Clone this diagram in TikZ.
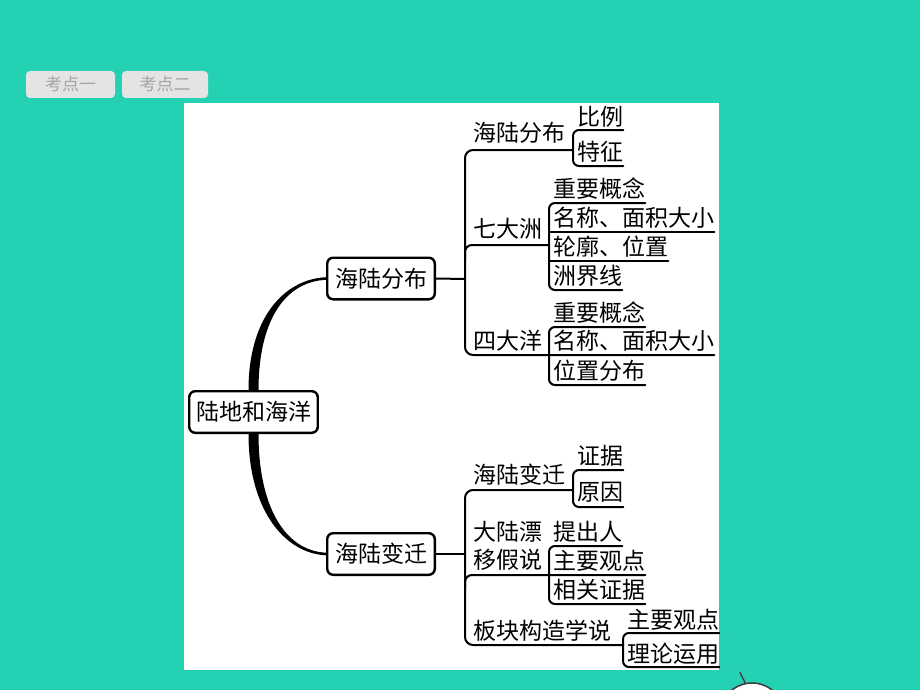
\documentclass[tikz,border=0pt]{standalone}
\usepackage{fontspec}
\newfontfamily\cjk{Noto Sans CJK SC}
\usetikzlibrary{calc}
\definecolor{bgteal}{RGB}{36,209,178}
\definecolor{tabgray}{RGB}{228,228,228}
\definecolor{tabtext}{RGB}{165,165,165}
\definecolor{deco}{RGB}{60,60,60}
\begin{document}
\begin{tikzpicture}[x=1pt,y=-1pt,
  box/.style={draw=black, line width=2.4pt, rounded corners=6pt, fill=white,
    font=\cjk\fontsize{23}{23}\selectfont, minimum width=107.6pt,
    minimum height=41.6pt, inner sep=0pt},
  lbl/.style={font=\cjk\fontsize{23}{28}\selectfont, inner sep=0pt, anchor=west, text=black},
  ln/.style={line width=2pt, line cap=round},
  tab/.style={fill=tabgray, rounded corners=4pt, minimum width=89pt,
    minimum height=27pt, inner sep=0pt, font=\cjk\fontsize{17}{17}\selectfont, text=tabtext}]
\useasboundingbox (0,0) rectangle (920,690);
\clip (0,0) rectangle (920,690);
\fill[bgteal] (0,0) rectangle (920,690);
% tabs
\node[tab] (t1) at (70.5,84.5) {考点一};
\node[tab, minimum width=86pt] (t2) at (165,84.5) {考点二};
% panel
\fill[white] (184,103) rectangle (719,670);
% decoration bottom right
\draw[deco, line width=1.5pt, fill=white] (752,715) circle (32);
\draw[deco, line width=1.3pt] (745,683) .. controls (744,679) and (741,676) .. (740,672);

% boxes
\node[box, minimum width=128.5pt] (root) at (253.5,412) {陆地和海洋};
\node[box] (b1) at (381,278.5) {海陆分布};
\node[box] (b2) at (381,554) {海陆变迁};

% tapered connectors
\fill ($(b1.west)+(0,-1.3)$) .. controls +(-42,2) and +(0,-72) .. ($(root.north)+(-5,0)$)
  -- ($(root.north)+(5,0)$) .. controls +(0,-68) and +(-42,2) .. ($(b1.west)+(0,1.3)$) -- cycle;
\fill ($(root.south)+(-5,0)$) .. controls +(0,75) and +(-42,-2) .. ($(b2.west)+(0,1.3)$)
  -- ($(b2.west)+(0,-1.3)$) .. controls +(-42,-2) and +(0,71) .. ($(root.south)+(5,0)$) -- cycle;

% ---------- upper branch labels
\node[lbl] (l1) at (473,133) {海陆分布};
\node[lbl] (a1) at (577,117) {比例};
\node[lbl] (a2) at (577,152) {特征};
\node[lbl] (l2) at (473,229) {七大洲};
\node[lbl] (bb1) at (553,189) {重要概念};
\node[lbl] (bb2) at (553,218) {名称、面积大小};
\node[lbl] (bb3) at (553,247) {轮廓、位置};
\node[lbl] (bb4) at (553,276) {洲界线};
\node[lbl] (l3) at (473,341) {四大洋};
\node[lbl] (c1) at (553,313) {重要概念};
\node[lbl] (c2) at (553,341) {名称、面积大小};
\node[lbl] (c3) at (553,371) {位置分布};

% ---------- lower branch labels
\node[lbl] (l4) at (473,475) {海陆变迁};
\node[lbl] (d1) at (577,456) {证据};
\node[lbl] (d2) at (577,492) {原因};
\node[lbl, align=left] (l5) at (473,546) {大陆漂\\移假说};
\node[lbl] (e1) at (553,532) {提出人};
\node[lbl] (e2) at (553,561) {主要观点};
\node[lbl] (e3) at (553,590) {相关证据};
\node[lbl] (l6) at (473,631) {板块构造学说};
\node[lbl] (f1) at (627,620) {主要观点};
\node[lbl] (f2) at (627,654) {理论运用};

% ---------- coordinates for the upper tree
\coordinate (v1t) at (465,150);
\coordinate (v1m) at (465,279);
\coordinate (v1b) at (465,355);
\coordinate (ja) at (573,150);
\coordinate (a1u) at (573,130);
\coordinate (a2u) at (573,166);
\coordinate (v1c) at (465,260);
\coordinate (jb) at (549,245);
\coordinate (bt) at (549,203);
\coordinate (bm2) at (549,232);
\coordinate (bm3) at (549,261);
\coordinate (bb) at (549,290);
\coordinate (ct) at (549,327);
\coordinate (cb) at (549,385);

\draw[ln, rounded corners=8pt] (ja) -- (v1t) -- (v1b) -- (c2.east |- v1b);
\draw[ln] (b1.east) -- (v1m);
\draw[ln, rounded corners=6pt] (a1.east |- a1u) -- (a1u) -- (a2u) -- (a2.east |- a2u);
\draw[ln, rounded corners=7pt] (v1c) -- (v1c |- jb) -- (jb);
\draw[ln, rounded corners=6pt] (bb1.east |- bt) -- (bt) -- (bb) -- (bb4.east |- bb);
\draw[ln] (bm2) -- (bb2.east |- bm2);
\draw[ln] (bm3) -- (bb3.east |- bm3);
\draw[ln, rounded corners=6pt] (c1.east |- ct) -- (ct) -- (cb) -- (c3.east |- cb);

% ---------- coordinates for the lower tree
\coordinate (v2t) at (465,490);
\coordinate (v2m) at (465,554);
\coordinate (v2b) at (465,645);
\coordinate (jd) at (573,490);
\coordinate (dt) at (573,470);
\coordinate (db) at (573,507);
\coordinate (v2c) at (465,590);
\coordinate (je) at (465,575);
\coordinate (et) at (549,546);
\coordinate (eb) at (549,604);
\coordinate (jf) at (623,645);
\coordinate (ft) at (623,633);
\coordinate (fb) at (623,667);

\draw[ln, rounded corners=8pt] (jd) -- (v2t) -- (v2b) -- (jf);
\draw[ln] (b2.east) -- (v2m);
\draw[ln, rounded corners=6pt] (d1.east |- dt) -- (dt) -- (db) -- (d2.east |- db);
\draw[ln, rounded corners=7pt] (v2c) -- (je) -- (e2.east |- je);
\draw[ln, rounded corners=6pt] (e1.east |- et) -- (et) -- (eb) -- (e3.east |- eb);
\draw[ln, rounded corners=6pt] (f1.east |- ft) -- (ft) -- (fb) -- (f2.east |- fb);
\end{tikzpicture}
\end{document}
